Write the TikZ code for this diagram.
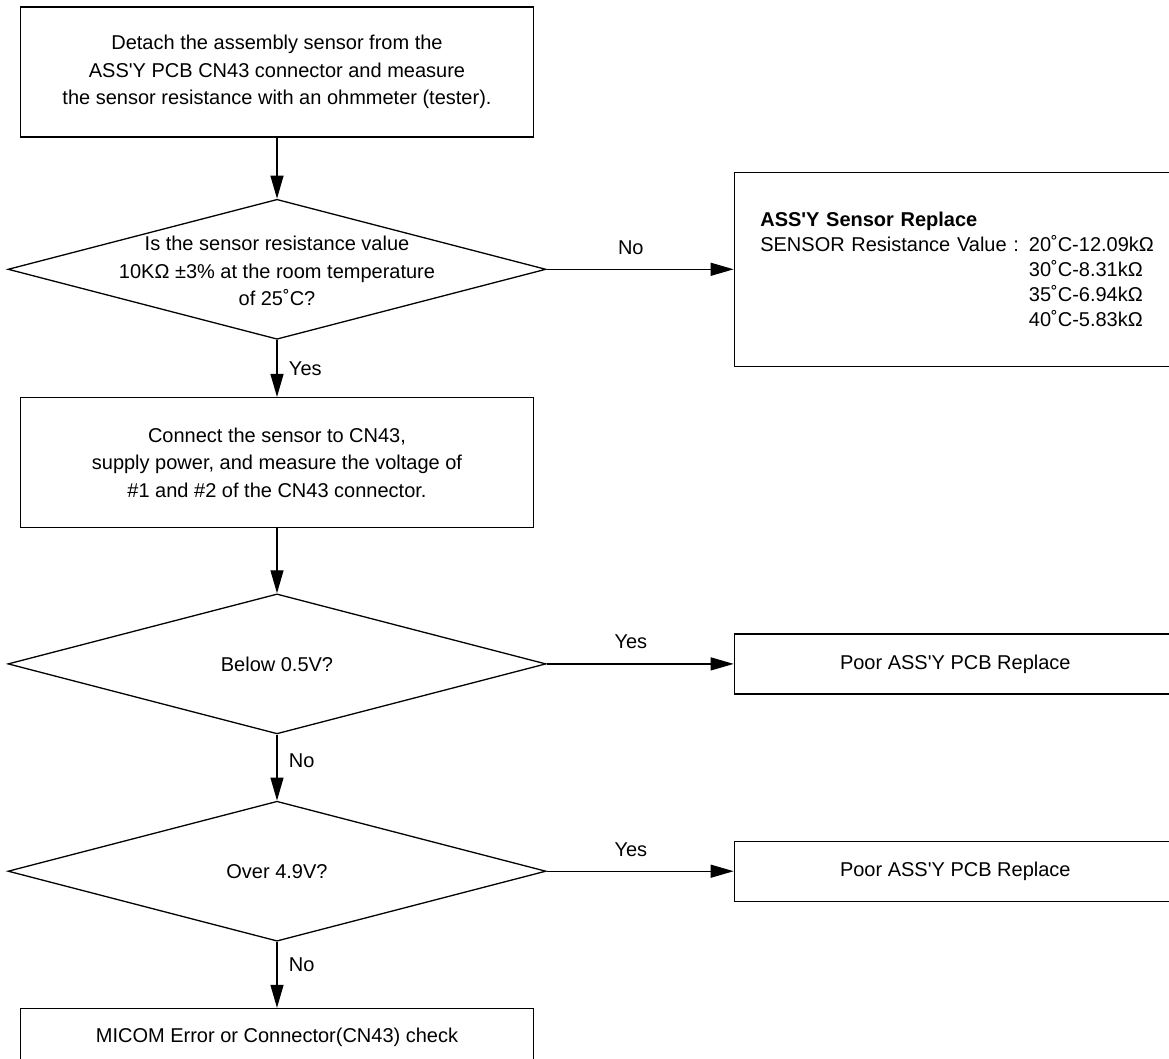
\documentclass[tikz,border=0pt]{standalone}
\usepackage{fontspec}
\setmainfont{Liberation Sans}[Ligatures=TeXOff]
\usetikzlibrary{shapes.geometric,arrows.meta,positioning}

\begin{document}
\begin{tikzpicture}[
    x=1pt, y=1pt,
    node distance=60pt,
    >={Triangle[length=23pt,width=13pt]},
    every node/.style={font=\fontsize{20pt}{27.5pt}\selectfont},
    line/.style={line width=1.3pt},
    stepbox/.style={rectangle, draw, line, minimum width=513pt, minimum height=130pt, align=center},
    decision/.style={diamond, draw, line, aspect=3.84, minimum width=538pt, minimum height=140pt, inner sep=0pt},
    txt/.style={align=center},
    resbox/.style={rectangle, draw, line, minimum width=442pt, minimum height=60pt, align=center}
]
    \useasboundingbox (0,0) rectangle (1169,-1059);
    \clip (0,0) rectangle (1169,-1059);

    % Main column
    \node[stepbox] (chk1) at (277,-72) {Detach the assembly sensor from the\\ASS'Y PCB CN43 connector and measure\\the sensor resistance with an ohmmeter (tester).};
    \node[decision, below=61pt of chk1, label={[txt, yshift=-2pt]center:{Is the sensor resistance value\\10KΩ ±3\% at the room temperature\\of 25˚C?}}] (dec1) {};
    \node[stepbox, below=57pt of dec1] (chk2) {Connect the sensor to CN43,\\supply power, and measure the voltage of\\\#1 and \#2 of the CN43 connector.};
    \node[decision, below=65pt of chk2, label={[txt]center:Below 0.5V?}] (dec2) {};
    \node[decision, below=66pt of dec2, label={[txt]center:Over 4.9V?}] (dec3) {};
    \node[stepbox, below=66pt of dec3, minimum height=58pt] (last) {MICOM Error or Connector(CN43) check};

    % Right column
    \node[resbox, right=187pt of dec1, minimum height=194pt, align=left, text width=420pt, inner xsep=26pt,
          font=\fontsize{20pt}{25pt}\selectfont] (rep1)
        {\textbf{ASS'Y Sensor Replace}\\
         SENSOR Resistance Value : 20˚C-12.09kΩ\\
         \phantom{SENSOR Resistance Value : }30˚C-8.31kΩ\\
         \phantom{SENSOR Resistance Value : }35˚C-6.94kΩ\\
         \phantom{SENSOR Resistance Value : }40˚C-5.83kΩ};
    \node[resbox, right=187pt of dec2] (rep2) {Poor ASS'Y PCB Replace};
    \node[resbox, right=187pt of dec3] (rep3) {Poor ASS'Y PCB Replace};

    % Connectors
    \draw[line, ->] (chk1) -- (dec1);
    \draw[line, ->] (dec1) -- node[right=8pt] {Yes} (chk2);
    \draw[line, ->] (chk2) -- (dec2);
    \draw[line, ->] (dec2) -- node[right=8pt, pos=0.4] {No} (dec3);
    \draw[line, ->] (dec3) -- node[right=8pt, pos=0.35] {No} (last);
    \draw[line, ->] (dec1) -- node[above=11pt, pos=0.45] {No} (rep1);
    \draw[line, ->] (dec2) -- node[above=11pt, pos=0.45] {Yes} (rep2);
    \draw[line, ->] (dec3) -- node[above=11pt, pos=0.45] {Yes} (rep3);
\end{tikzpicture}
\end{document}
